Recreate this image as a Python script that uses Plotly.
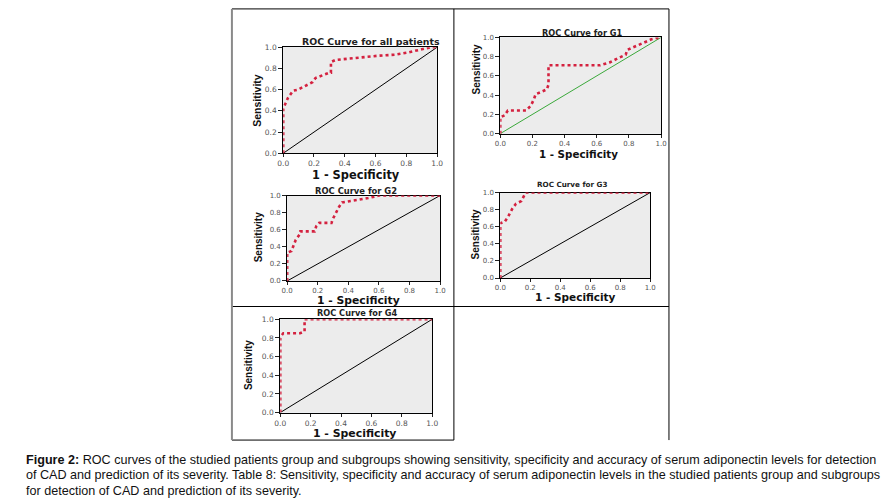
import plotly.graph_objects as go

W, H = 892, 504

# ---------------- data ----------------
tick_vals = [0.0, 0.2, 0.4, 0.6, 0.8, 1.0]
tick_text = ["0.0", "0.2", "0.4", "0.6", "0.8", "1.0"]
ref_line = [0.0, 1.0]

all_fpr = [0.0, 0.0, 0.03, 0.064, 0.096, 0.15, 0.19, 0.21, 0.26, 0.30, 0.31, 0.31, 0.34, 0.47, 0.62, 0.73, 0.81, 0.90, 0.96, 1.0]
all_tpr = [0.0, 0.42, 0.52, 0.59, 0.60, 0.64, 0.67, 0.71, 0.74, 0.76, 0.76, 0.86, 0.88, 0.90, 0.92, 0.93, 0.95, 0.98, 1.0, 1.0]

g1_fpr = [0.0, 0.0, 0.027, 0.047, 0.16, 0.19, 0.21, 0.22, 0.25, 0.29, 0.30, 0.30, 0.62, 0.68, 0.74, 0.78, 0.79, 0.86, 0.94, 0.99, 1.0]
g1_tpr = [0.0, 0.17, 0.19, 0.24, 0.24, 0.29, 0.36, 0.41, 0.43, 0.46, 0.51, 0.71, 0.71, 0.74, 0.79, 0.82, 0.87, 0.92, 0.98, 1.0, 1.0]

g2_fpr = [0.0, 0.0, 0.028, 0.043, 0.056, 0.08, 0.086, 0.18, 0.19, 0.21, 0.29, 0.30, 0.31, 0.33, 0.34, 0.36, 0.40, 0.47, 0.53, 0.58, 0.60, 1.0]
g2_tpr = [0.0, 0.33, 0.35, 0.43, 0.48, 0.54, 0.58, 0.58, 0.64, 0.68, 0.68, 0.73, 0.77, 0.83, 0.87, 0.92, 0.93, 0.95, 0.97, 0.99, 1.0, 1.0]

g3_fpr = [0.0, 0.0, 0.03, 0.05, 0.08, 0.105, 0.14, 0.16, 0.17, 1.0]
g3_tpr = [0.0, 0.64, 0.66, 0.71, 0.81, 0.87, 0.90, 0.96, 1.0, 1.0]

g4_fpr = [0.0, 0.0, 0.01, 0.02, 0.13, 0.16, 0.16, 0.16, 1.0]
g4_tpr = [0.0, 0.80, 0.83, 0.85, 0.85, 0.87, 0.94, 1.0, 1.0]

panel_titles = ["ROC Curve for all patients", "ROC Curve for G1", "ROC Curve for G2",
                "ROC Curve for G3", "ROC Curve for G4"]
x_title = "1 - Specificity"
y_title = "Sensitivity"
caption_lines = [
    "<b>Figure 2:</b> ROC curves of the studied patients group and subgroups showing sensitivity, specificity and accuracy of serum adiponectin levels for detection",
    "of CAD and prediction of its severity. Table 8: Sensitivity, specificity and accuracy of serum adiponectin levels in the studied patients group and subgroups",
    "for detection of CAD and prediction of its severity.",
]

# ---------------- layout helpers ----------------
def px(x):
    return x / W

def py(y):
    return 1 - y / H

# plot-area boxes in pixels: (left, right, top, bottom)
boxes = [
    (281, 437, 44, 152),
    (501, 664, 34, 132),
    (285, 440, 195, 282),
    (501, 653, 192, 279),
    (278, 432, 321, 416),
]
title_pos = [(370, 38, 9.4), (584, 30, 8.2), (355, 190, 8.4), (574, 184, 7.2), (356, 315, 8.2)]
xt_pos = [(355, 174, 11.4), (580, 153, 10.3), (357, 302, 10.8), (577, 298, 10.5), (353, 437, 10.9)]
yt_pos = [(255, 98, 10.5), (477, 67, 10.0), (256, 238, 10.0), (476, 235, 10.0), (246, 368, 10.0)]
tick_sizes = [7.5, 7, 7.0, 7, 7.5]
diag_colors = ["black", "#3aa83a", "black", "black", "black"]

curves = [(all_fpr, all_tpr), (g1_fpr, g1_tpr), (g2_fpr, g2_tpr), (g3_fpr, g3_tpr), (g4_fpr, g4_tpr)]

RED = "#d4213f"
VERD = "DejaVu Sans, Verdana, sans-serif"
ARIAL = "Liberation Sans, Arial, sans-serif"

fig = go.Figure()
layout = dict(
    width=W, height=H,
    margin=dict(l=0, r=0, t=0, b=0),
    paper_bgcolor="white",
    showlegend=False,
    annotations=[], shapes=[],
)

for i, ((fx, fy), box) in enumerate(zip(curves, boxes)):
    n = "" if i == 0 else str(i + 1)
    xa, ya = "x" + n, "y" + n
    l, r, t, b = box
    fig.add_trace(go.Scatter(x=ref_line, y=ref_line, mode="lines", xaxis=xa, yaxis=ya,
                             line=dict(color=diag_colors[i], width=1), hoverinfo="skip"))
    fig.add_trace(go.Scatter(x=fx, y=fy, mode="lines", xaxis=xa, yaxis=ya,
                             line=dict(color=RED, width=2.6, dash="3px,3px"), hoverinfo="skip"))
    common = dict(range=[0, 1], tickvals=tick_vals, ticktext=tick_text, ticks="outside",
                  ticklen=3, tickcolor="#222", tickwidth=1, showgrid=False, zeroline=False,
                  showline=True, linecolor="black", linewidth=1, mirror=True,
                  layer="below traces",
                  tickfont=dict(family=VERD, size=tick_sizes[i], color="#555"), fixedrange=True)
    layout["xaxis" + n] = dict(common, domain=[px(l), px(r)], anchor=ya)
    layout["yaxis" + n] = dict(common, domain=[py(b), py(t)], anchor=xa, ticklen=4)
    layout["shapes"].append(dict(type="rect", xref="paper", yref="paper",
                                 x0=px(l), x1=px(r), y0=py(b), y1=py(t),
                                 fillcolor="#ececec", line=dict(width=0), layer="below"))
    tx, ty, ts = title_pos[i]
    layout["annotations"].append(dict(text="<b>" + panel_titles[i] + "</b>", x=px(tx), y=py(ty),
                                      xref="paper", yref="paper", showarrow=False,
                                      xanchor="center", yanchor="middle",
                                      font=dict(family=VERD, size=ts, color="#222")))
    xx, xy, xs = xt_pos[i]
    layout["annotations"].append(dict(text="<b>" + x_title + "</b>", x=px(xx), y=py(xy),
                                      xref="paper", yref="paper", showarrow=False,
                                      xanchor="center", yanchor="middle",
                                      font=dict(family=VERD, size=xs, color="#111")))
    yx, yy, ys = yt_pos[i]
    layout["annotations"].append(dict(text="<b>" + y_title + "</b>", x=px(yx), y=py(yy),
                                      xref="paper", yref="paper", showarrow=False, textangle=-90,
                                      xanchor="center", yanchor="middle",
                                      font=dict(family=ARIAL, size=ys, color="#111")))

def hline(x0, x1, y, color="black", w=1):
    layout["shapes"].append(dict(type="line", xref="paper", yref="paper",
                                 x0=px(x0), x1=px(x1), y0=py(y), y1=py(y),
                                 line=dict(color=color, width=w)))

def vline(x, y0, y1, color="black", w=1):
    layout["shapes"].append(dict(type="line", xref="paper", yref="paper",
                                 x0=px(x), x1=px(x), y0=py(y0), y1=py(y1),
                                 line=dict(color=color, width=w)))

hline(229, 672, 5)
hline(229, 672, 308)
hline(229, 454, 444)
vline(229, 5, 444, color="#8a8a8a", w=2)
vline(454, 5, 444)
vline(672, 5, 444)

cap_y = [464, 480, 496]
for line, y in zip(caption_lines, cap_y):
    layout["annotations"].append(dict(text=line, x=px(18), y=py(y), xref="paper", yref="paper",
                                      showarrow=False, xanchor="left", yanchor="middle",
                                      font=dict(family=ARIAL, size=12.6, color="#111")))

fig.update_layout(**layout)
fig.write_html("out.html", config={"displayModeBar": False},
               post_script="document.body.style.margin='0px';document.body.style.overflow='hidden';")
